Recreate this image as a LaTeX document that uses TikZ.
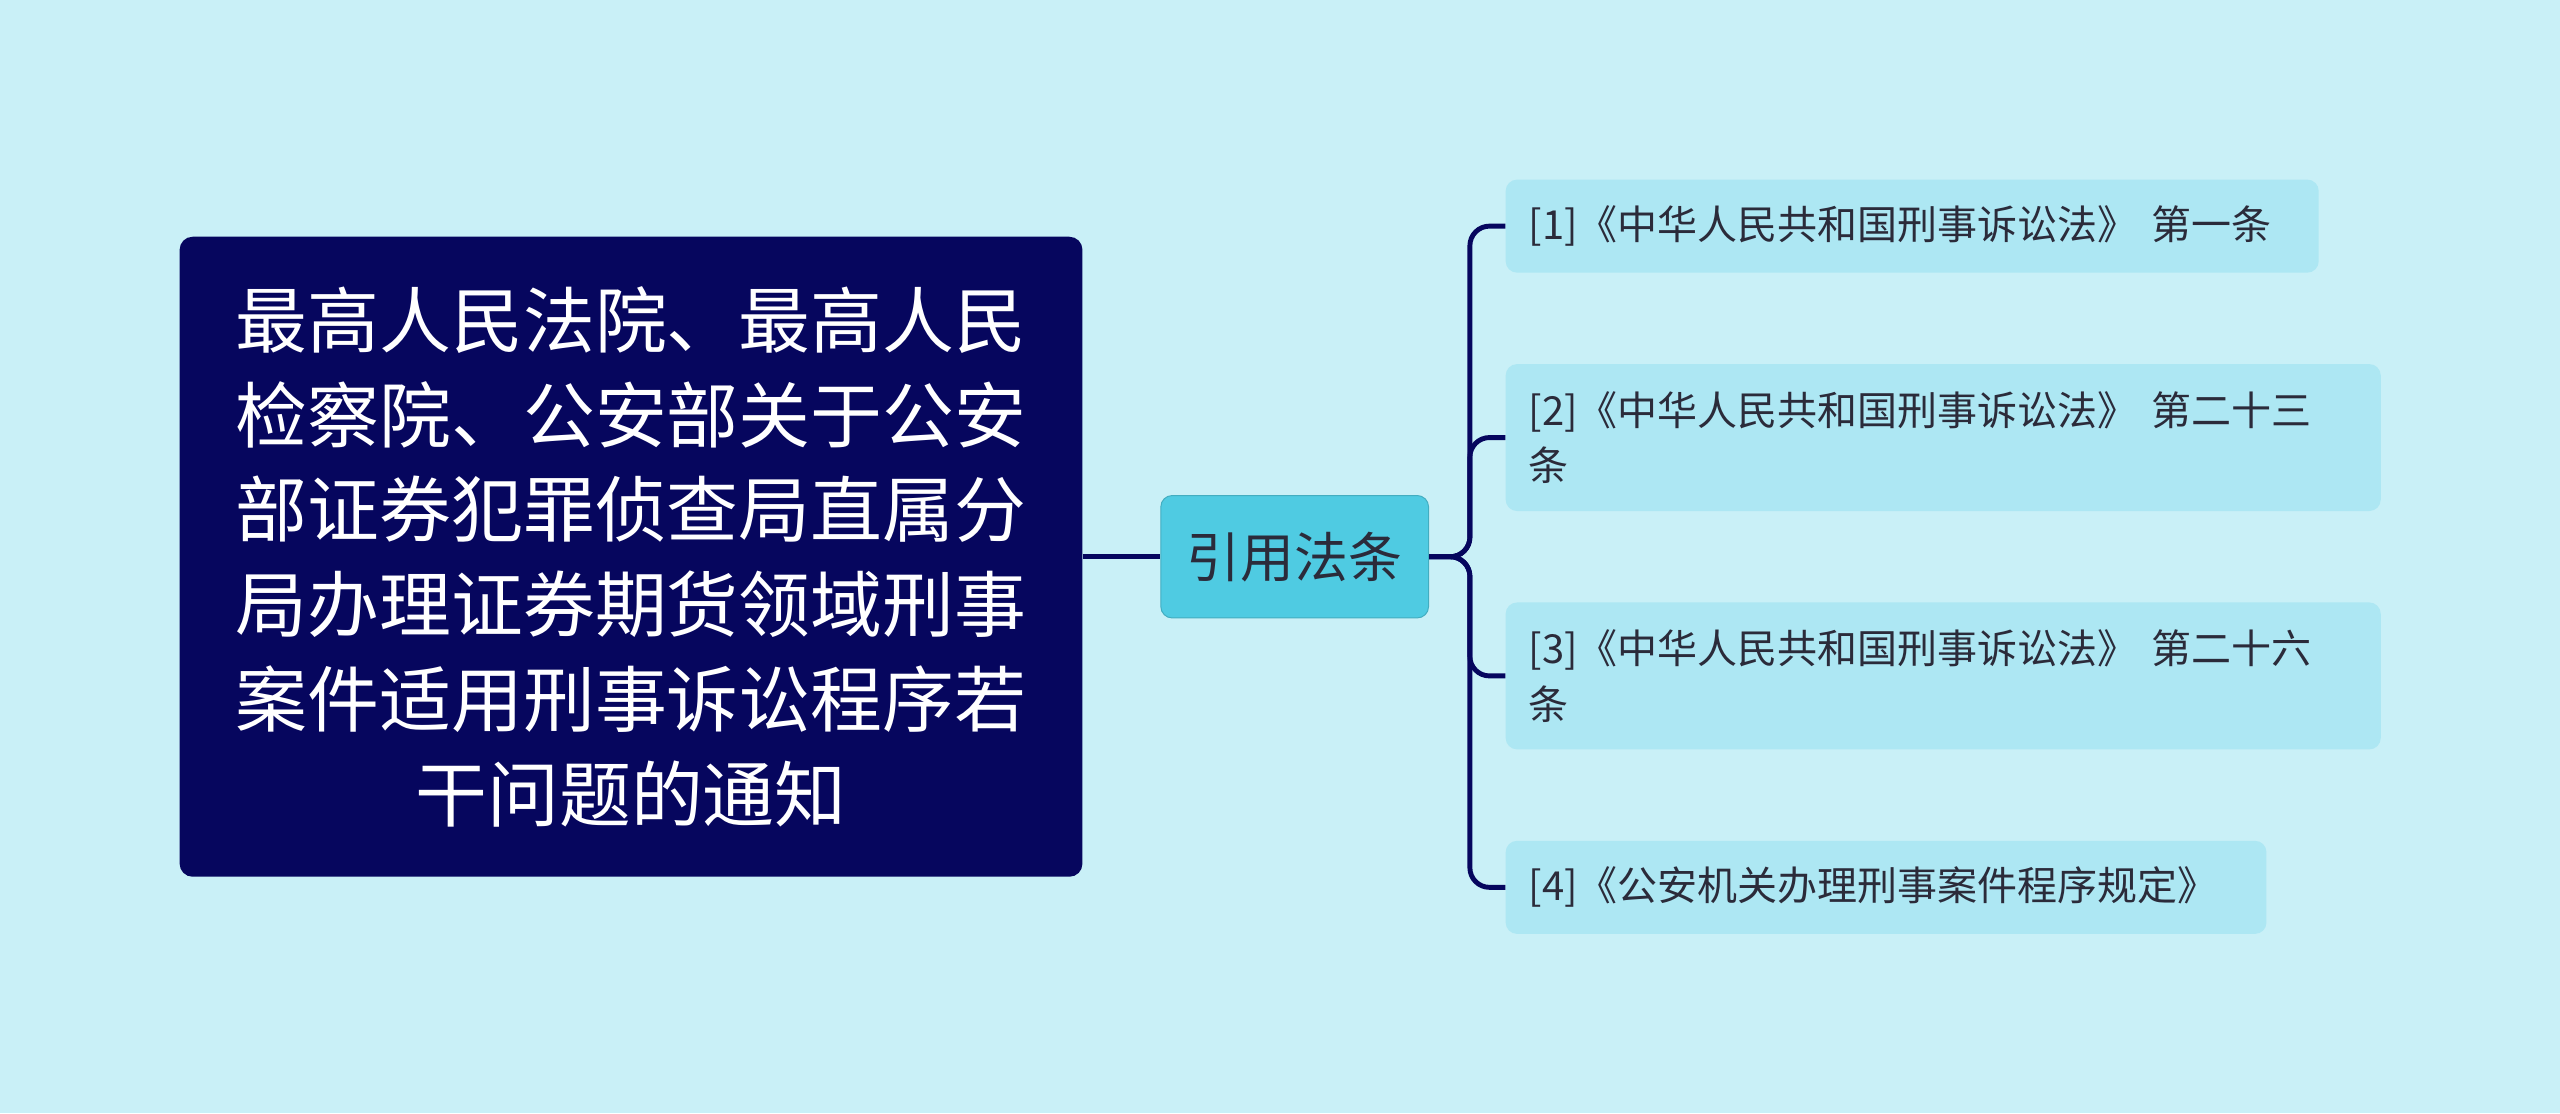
\documentclass[tikz,border=0pt]{standalone}
\usepackage{fontspec}
\newfontfamily\cjk{Noto Sans CJK SC}
\definecolor{bg}{HTML}{C9F0F7}
\definecolor{navy}{HTML}{06065E}
\definecolor{midc}{HTML}{4FCBE2}
\definecolor{leafc}{HTML}{ADE7F3}
\definecolor{txt}{HTML}{2B2B3A}
\tikzset{
 rootbox/.style={fill=navy,rounded corners=8pt,text=white,align=center,inner sep=0pt,minimum width=553pt,minimum height=392pt,font=\cjk\fontsize{44}{58}\selectfont},
 midbox/.style={fill=midc,draw=midc!85!black,line width=0.6pt,rounded corners=7pt,text=txt,minimum width=164pt,minimum height=75pt,inner sep=0pt,font=\cjk\fontsize{33}{36}\selectfont},
 leafbox/.style={fill=leafc,rounded corners=7pt,text=txt,align=left,anchor=west,inner xsep=14pt,inner ysep=0pt,font=\cjk\fontsize{24.5}{34}\selectfont},
 link/.style={draw=navy,line width=3pt,rounded corners=12pt}
}
\begin{document}
\begin{tikzpicture}[x=1pt,y=-1pt]
\fill[bg] (0,0) rectangle (1568,682);
\useasboundingbox (0,0) rectangle (1568,682);
\node[rootbox] (root) at (386.5,341) {最高人民法院、最高人民\\检察院、公安部关于公安\\部证券犯罪侦查局直属分\\局办理证券期货领域刑事\\案件适用刑事诉讼程序若\\干问题的通知};
\node[midbox] (mid) at (793,341) {引用法条};
\node[leafbox,text width=470pt,minimum height=57pt] (l1) at (922,138.5) {[1]《中华人民共和国刑事诉讼法》 第一条};
\node[leafbox,text width=508pt,minimum height=90pt] (l2) at (922,268) {[2]《中华人民共和国刑事诉讼法》 第二十三\\条};
\node[leafbox,text width=508pt,minimum height=90pt] (l3) at (922,414) {[3]《中华人民共和国刑事诉讼法》 第二十六\\条};
\node[leafbox,text width=438pt,minimum height=57pt] (l4) at (922,543.5) {[4]《公安机关办理刑事案件程序规定》};
\draw[draw=navy,line width=3pt] (root.east) -- (mid.west);
\foreach \l in {l1,l2,l3,l4}{
 \draw[link] (mid.east) -- ++(25,0) |- (\l.west);
}
\end{tikzpicture}
\end{document}
